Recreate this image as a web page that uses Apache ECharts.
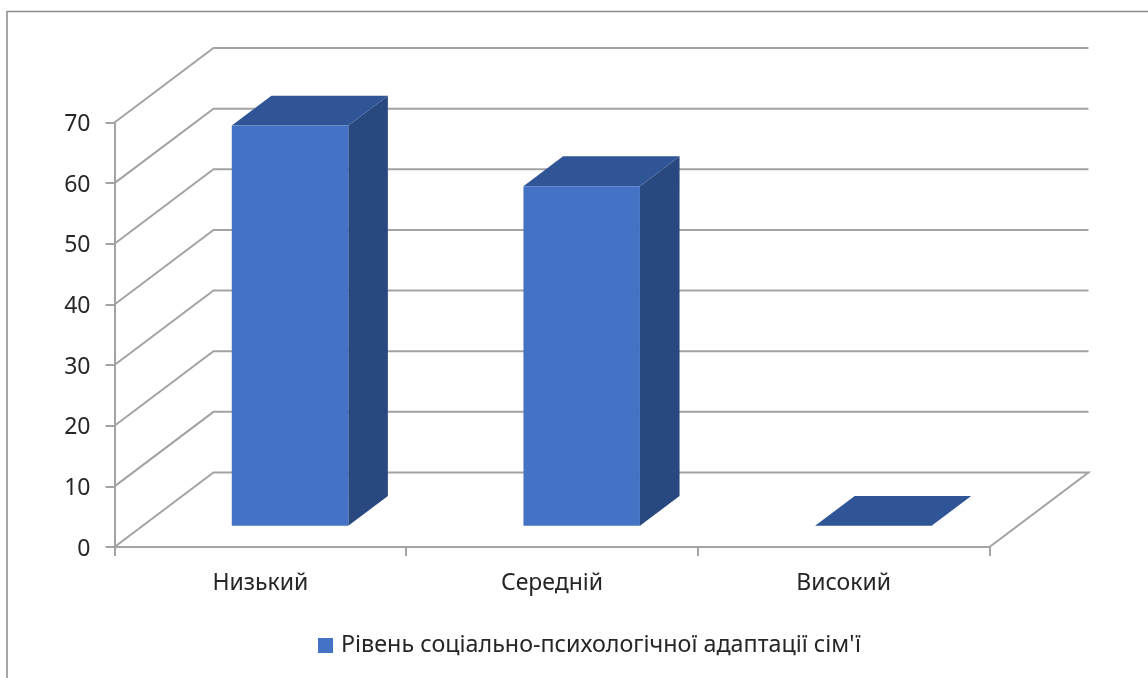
<!DOCTYPE html>
<html>
<head>
<meta charset="utf-8">
<style>html,body{margin:0;padding:0;background:#fff}#c{width:1148px;height:678px}</style>
<script src="https://cdn.jsdelivr.net/npm/echarts@6/dist/echarts.min.js"></script>
</head>
<body>
<div id="c"></div>
<script>
const categories = ['Низький', 'Середній', 'Високий'];
const seriesName = "Рівень соціально-психологічної адаптації сім'ї";
const values = [66, 56, 0];
const yTicks = [0, 10, 20, 30, 40, 50, 60, 70];

const FONT = '"Noto Sans", "Open Sans", sans-serif';
const LINE = '#a3a3a3';
const DEPTH = { x: 99, y: 74.5 };
const BAR_FRONT = 0.3, BAR_BACK = 0.7, BAR_WIDTH = 116.5;

const chart = echarts.init(document.getElementById('c'), null, { renderer: 'canvas' });

function wall(params, api) {
  const v = api.value(0);
  const left = api.coord(['Низький', v]);
  const rect = params.coordSys;
  const x0 = rect.x, x1 = rect.x + rect.width, y = left[1];
  const pts = [[x0, y], [x0 + DEPTH.x, y - DEPTH.y], [x1 + DEPTH.x, y - DEPTH.y]];
  if (v === 0) pts.push([x1, y]);
  return { type: 'polyline', shape: { points: pts },
    style: { stroke: LINE, lineWidth: 2, fill: null } };
}

function bar(params, api) {
  const c = api.coord([api.value(0), api.value(1)]);
  const b = api.coord([api.value(0), 0]);
  const fy = 0.285 * DEPTH.y, fx = BAR_FRONT * DEPTH.x;
  const dx = (BAR_BACK - BAR_FRONT) * DEPTH.x, dy = (BAR_BACK - BAR_FRONT) * DEPTH.y;
  const L = c[0] + fx - BAR_WIDTH / 2, R = L + BAR_WIDTH;
  const T = c[1] - fy, B = b[1] - fy;
  return { type: 'group', children: [
    { type: 'polygon', shape: { points: [[R, T], [R + dx, T - dy], [R + dx, B - dy], [R, B]] },
      style: { fill: '#29487f' } },
    { type: 'polygon', shape: { points: [[L, T], [L + dx, T - dy], [R + dx, T - dy], [R, T]] },
      style: { fill: '#2f5597' } },
    { type: 'rect', shape: { x: L, y: T, width: BAR_WIDTH, height: B - T },
      style: { fill: '#4472c4' } }
  ] };
}

chart.setOption({
  animation: false,
  backgroundColor: '#fff',
  grid: { left: 114.5, right: 1148 - 989.5, top: 122.5, bottom: 678 - 547 },
  legend: {
    show: true, left: 313, top: 629, itemWidth: 15, itemHeight: 15, itemGap: 8,
    icon: 'rect',
    data: [{ name: seriesName, itemStyle: { color: '#4472c4' } }],
    textStyle: { fontFamily: FONT, fontSize: 23.3, color: '#262626', padding: [5, 0, 0, 3] }
  },
  xAxis: {
    type: 'category', data: categories,
    axisLine: { show: true, lineStyle: { color: LINE, width: 2 } },
    axisTick: { show: true, length: 9, lineStyle: { color: LINE, width: 2 } },
    axisLabel: { margin: 25, fontFamily: FONT, fontSize: 23, color: '#262626' },
    splitLine: { show: false }
  },
  yAxis: {
    type: 'value', min: 0, max: 70, interval: 10,
    axisLine: { show: true, lineStyle: { color: LINE, width: 2 } },
    axisTick: { show: true, length: 9, lineStyle: { color: LINE, width: 2 } },
    axisLabel: { margin: 24, fontFamily: FONT, fontSize: 23, color: '#262626', verticalAlign: 'top', lineHeight: 4 },
    splitLine: { show: false }
  },
  graphic: [
    { type: 'polyline', silent: true, shape: { points: [[7, 678], [7, 11.5], [1148, 11.5]] },
      style: { stroke: '#8c8c8c', lineWidth: 1.5, fill: null } }
  ],
  series: [
    { type: 'custom', name: 'walls', coordinateSystem: 'cartesian2d', clip: false, z: 1,
      silent: true, encode: { y: 0 }, data: yTicks.map(v => [v]), renderItem: wall },
    { type: 'custom', name: seriesName, coordinateSystem: 'cartesian2d', clip: false, z: 3,
      silent: true, itemStyle: { color: '#4472c4' }, encode: { x: 0, y: 1 },
      data: categories.map((c, i) => [c, values[i]]), renderItem: bar }
  ]
});
</script>
</body>
</html>
